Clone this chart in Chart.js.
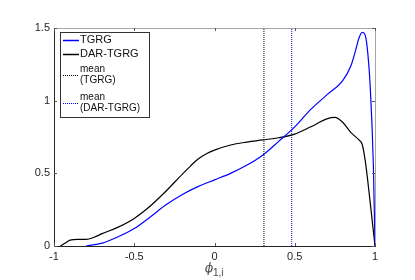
<!DOCTYPE html>
<html>
<head>
<meta charset="utf-8">
<script src="https://cdn.jsdelivr.net/npm/chart.js@4/dist/chart.umd.min.js"></script>
<style>
  html, body { margin: 0; padding: 0; background: #fff; }
</style>
</head>
<body>
<canvas id="chart" width="415" height="280"></canvas>
<script>
// values
var phiTGRG = [-0.8, -0.7, -0.6, -0.5, -0.4, -0.3, -0.2, -0.1, 0, 0.1, 0.2, 0.3, 0.4, 0.5, 0.6, 0.7, 0.8, 0.85, 0.88, 0.9, 0.92, 0.935, 0.95, 0.97, 0.99, 1.0];
var tgrg    = [0, 0.02, 0.064, 0.12, 0.2, 0.285, 0.355, 0.41, 0.455, 0.5, 0.555, 0.625, 0.72, 0.82, 0.94, 1.04, 1.14, 1.24, 1.35, 1.43, 1.47, 1.46, 1.38, 1.1, 0.55, 0];

var phiDAR = [-0.96, -0.93, -0.9, -0.85, -0.8, -0.75, -0.7, -0.6, -0.5, -0.4, -0.3, -0.2, -0.15, -0.1, -0.05, 0, 0.1, 0.2, 0.3, 0.4, 0.5, 0.6, 0.7, 0.75, 0.8, 0.85, 0.9, 0.92, 0.94, 0.97, 1.0];
var darTgrg = [0, 0.02, 0.04, 0.045, 0.045, 0.06, 0.085, 0.13, 0.19, 0.275, 0.38, 0.495, 0.55, 0.6, 0.635, 0.66, 0.695, 0.715, 0.73, 0.745, 0.77, 0.82, 0.875, 0.885, 0.85, 0.78, 0.73, 0.70, 0.58, 0.3, 0];

var meanTGRG = 0.308;
var meanDAR = 0.481;

var xTicks = [-1, -0.5, 0, 0.5, 1];
var yTicks = [0, 0.5, 1, 1.5];

function pts(xs, ys) {
  return xs.map(function (x, i) { return { x: x, y: ys[i] }; });
}

// frame, inward ticks, legend box and subscript axis title
var decor = {
  id: 'decor',
  afterDraw: function (chart) {
    var ctx = chart.ctx, a = chart.chartArea;
    var xs = chart.scales.x, ys = chart.scales.y;
    ctx.save();
    ctx.strokeStyle = '#a6a6a6';
    ctx.lineWidth = 1;
    ctx.beginPath();
    ctx.moveTo(a.left, a.top + 0.5); ctx.lineTo(a.right + 0.5, a.top + 0.5);
    ctx.lineTo(a.right + 0.5, a.bottom);
    ctx.stroke();

    ctx.strokeStyle = '#555';
    ctx.beginPath();
    xTicks.forEach(function (v) {
      var p = Math.round(xs.getPixelForValue(v)) + 0.5;
      ctx.moveTo(p, a.bottom); ctx.lineTo(p, a.bottom - 3);
      ctx.moveTo(p, a.top); ctx.lineTo(p, a.top + 3);
    });
    yTicks.forEach(function (v) {
      var p = Math.round(ys.getPixelForValue(v)) + 0.5;
      ctx.moveTo(a.left, p); ctx.lineTo(a.left + 3, p);
      ctx.moveTo(a.right, p); ctx.lineTo(a.right - 3, p);
    });
    ctx.stroke();

    // legend
    var lx = 60.5, ly = 32.5, lw = 89, lh = 85;
    ctx.fillStyle = '#fff';
    ctx.fillRect(lx, ly, lw, lh);
    ctx.strokeStyle = '#333';
    ctx.strokeRect(lx, ly, lw, lh);
    var items = [
      { c: '#0000ff', dash: [], y: 40, lines: ['TGRG'], size: 11 },
      { c: '#000000', dash: [], y: 54, lines: ['DAR-TGRG'], size: 11 },
      { c: '#000000', dash: [1, 1], y: 75, lines: ['mean', '(TGRG)'], size: 10 },
      { c: '#0000ff', dash: [1, 1], y: 103, lines: ['mean', '(DAR-TGRG)'], size: 10 }
    ];
    items.forEach(function (it) {
      ctx.strokeStyle = it.c;
      ctx.lineWidth = it.dash.length ? 1 : 1.5;
      ctx.setLineDash(it.dash);
      ctx.beginPath();
      ctx.moveTo(63, it.y + 0.5); ctx.lineTo(79, it.y + 0.5);
      ctx.stroke();
      ctx.setLineDash([]);
      ctx.fillStyle = '#111';
      ctx.font = it.size + 'px "Liberation Sans", Arial, sans-serif';
      ctx.textBaseline = 'middle';
      ctx.textAlign = 'left';
      var n = it.lines.length;
      it.lines.forEach(function (t, k) {
        ctx.fillText(t, 80, it.y + (k - (n - 1) / 2) * 11);
      });
    });

    // x axis title with subscript
    ctx.fillStyle = '#444';
    ctx.textBaseline = 'alphabetic';
    ctx.font = 'italic 12px "DejaVu Serif", serif';
    ctx.fillText('\u03d5', 205, 272);
    ctx.font = '10px "Liberation Sans", Arial, sans-serif';
    ctx.fillText('1,i', 213, 276);
    ctx.restore();
  }
};

function plain(v) { return String(v); }

var ctx = document.getElementById('chart').getContext('2d');
var chart = new Chart(ctx, {
  type: 'line',
  data: {
    datasets: [
      { label: 'TGRG', data: pts(phiTGRG, tgrg), borderColor: '#0000ff', borderWidth: 1.2, pointRadius: 0, cubicInterpolationMode: 'monotone', fill: false },
      { label: 'DAR-TGRG', data: pts(phiDAR, darTgrg), borderColor: '#000000', borderWidth: 1.2, pointRadius: 0, cubicInterpolationMode: 'monotone', fill: false },
      { label: 'mean (TGRG)', data: pts([meanTGRG, meanTGRG], [0, 1.5]), borderColor: '#000000', borderWidth: 1, borderDash: [1, 1], pointRadius: 0 },
      { label: 'mean (DAR-TGRG)', data: pts([meanDAR, meanDAR], [0, 1.5]), borderColor: '#0000ff', borderWidth: 1, borderDash: [1, 1], pointRadius: 0 }
    ]
  },
  options: {
    responsive: false,
    animation: false,
    layout: { padding: { top: 28, right: 40, left: 0, bottom: 0 } },
    plugins: { legend: { display: false }, tooltip: { enabled: false } },
    scales: {
      x: {
        type: 'linear', min: -1, max: 1,
        afterBuildTicks: function (s) { s.ticks = xTicks.map(function (v) { return { value: v }; }); },
        afterFit: function (s) { s.height = 34; },
        grid: { display: false, drawTicks: false },
        border: { color: '#262626' },
        ticks: { padding: 4, color: '#262626', callback: plain, font: { size: 11, family: '"Liberation Sans", Arial, sans-serif' }, maxRotation: 0 }
      },
      y: {
        type: 'linear', min: 0, max: 1.5,
        afterBuildTicks: function (s) { s.ticks = yTicks.map(function (v) { return { value: v }; }); },
        afterFit: function (s) { s.width = 54; },
        grid: { display: false, drawTicks: false },
        border: { color: '#262626' },
        ticks: { padding: 4, color: '#262626', callback: plain, font: { size: 11, family: '"Liberation Sans", Arial, sans-serif' } }
      }
    }
  },
  plugins: [decor]
});
</script>
</body>
</html>
